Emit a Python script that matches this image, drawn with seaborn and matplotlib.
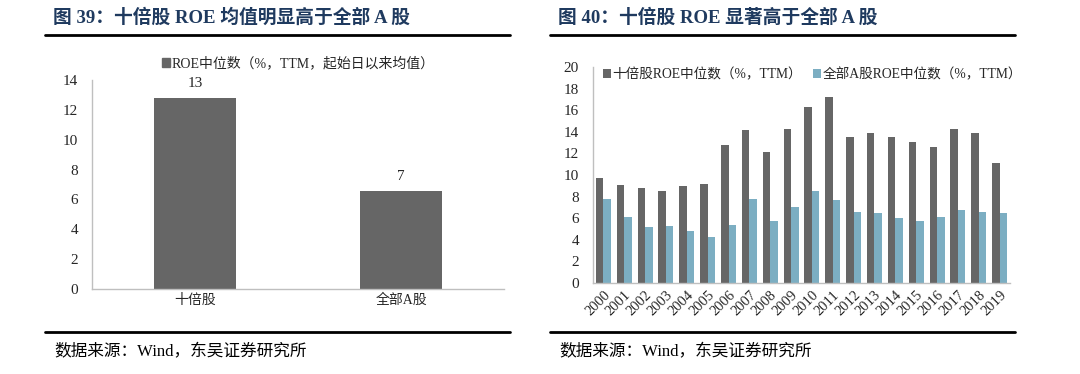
import numpy as np
import pandas as pd
import seaborn as sns
import matplotlib.pyplot as plt
from matplotlib.ticker import FixedLocator

sns.set_style('white')
plt.rcParams['font.family'] = ['Liberation Serif', 'Noto Sans CJK SC']

# data
left_cats = ['十倍股', '全部A股']
left_vals = [12.8, 6.55]
left_series = 'ROE中位数（%，TTM，起始日以来均值）'

years = [str(y) for y in range(2000, 2020)]
ten_bagger = [9.7, 9.1, 8.8, 8.55, 9.0, 9.2, 12.8, 14.2, 12.1, 14.3,
              16.3, 17.25, 13.5, 13.9, 13.5, 13.05, 12.6, 14.3, 13.9, 11.1]
all_a = [7.75, 6.1, 5.2, 5.3, 4.8, 4.3, 5.4, 7.75, 5.7, 7.05,
         8.5, 7.65, 6.55, 6.45, 6.0, 5.75, 6.1, 6.75, 6.55, 6.45]
right_series = ['十倍股ROE中位数（%，TTM）', '全部A股ROE中位数（%，TTM）']

dark = '#666666'
blue = '#70B3CE'
axis_gray = '#BFBFBF'
title_color = '#1F3A5F'

fig = plt.figure(figsize=(10.8, 3.74), dpi=100)


def style_axis(ax, n):
    sns.despine(ax=ax)
    for s in ['left', 'bottom']:
        ax.spines[s].set_color(axis_gray)
        ax.spines[s].set_linewidth(1)
    ax.tick_params(axis='y', direction='out', length=4, color=axis_gray, labelsize=11, pad=6)
    ax.tick_params(axis='x', which='major', length=0, labelsize=10)
    ax.xaxis.set_minor_locator(FixedLocator(np.arange(-0.5, n, 1)))
    ax.tick_params(axis='x', which='minor', direction='out', length=4, color=axis_gray)
    ax.set_xlim(-0.5, n - 0.5)
    ax.set_xlabel('')
    ax.set_ylabel('')


# left chart
ax1 = fig.add_axes([92 / 1080, 85 / 374, 412 / 1080, 209 / 374])
df1 = pd.DataFrame({'cat': left_cats, 'val': left_vals, 'series': left_series})
sns.barplot(data=df1, x='cat', y='val', hue='series', palette=[dark], width=0.4,
            linewidth=0, ax=ax1, legend=False)
ax1.set_ylim(0, 14)
ax1.set_yticks(range(0, 15, 2))
style_axis(ax1, 2)
ax1.bar_label(ax1.containers[0], fmt='%.0f', padding=6, fontsize=11)
h1 = [plt.Rectangle((0, 0), 1, 1, color=dark)]
ax1.legend(h1, [left_series], loc='lower center', bbox_to_anchor=(0.5, 1.02), frameon=False,
           fontsize=10, handlelength=0.6, handleheight=0.6, handletextpad=0.1, borderaxespad=0)

# right chart
ax2 = fig.add_axes([593 / 1080, 91 / 374, 417 / 1080, 216 / 374])
df2 = pd.DataFrame({'year': years * 2,
                    'val': ten_bagger + all_a,
                    'series': [right_series[0]] * len(years) + [right_series[1]] * len(years)})
sns.barplot(data=df2, x='year', y='val', hue='series', palette=[dark, blue], width=0.72,
            gap=0, linewidth=0, ax=ax2)
ax2.set_ylim(0, 20)
ax2.set_yticks(range(0, 21, 2))
style_axis(ax2, len(years))
for lbl in ax2.get_xticklabels():
    lbl.set_rotation(45)
    lbl.set_ha('right')
    lbl.set_rotation_mode('anchor')
ax2.tick_params(axis='x', which='major', pad=4, labelsize=10.5)
ax2.legend(loc='upper left', bbox_to_anchor=(0.01, 1.02), ncol=2, frameon=False, fontsize=9.8,
           handlelength=0.6, handleheight=0.6, handletextpad=0.1, columnspacing=0.8,
           borderaxespad=0)

# titles, rules and source notes
for x0, x1, title in [(45, 510, '图 39：十倍股 ROE 均值明显高于全部 A 股'),
                      (550, 1015, '图 40：十倍股 ROE 显著高于全部 A 股')]:
    fig.text(x0 / 1080 + 0.007, 1 - 18 / 374, title, fontsize=13.5, fontweight='bold',
             color=title_color, va='center', ha='left')
    fig.add_artist(plt.Line2D([x0 / 1080, x1 / 1080], [1 - 35 / 374] * 2, color='black', lw=2))
    fig.add_artist(plt.Line2D([x0 / 1080, x1 / 1080], [1 - 332 / 374] * 2, color='black', lw=2))
    fig.text(x0 / 1080 + 0.009, 1 - 352 / 374, '数据来源：Wind，东吴证券研究所', fontsize=12,
             color='black', va='center', ha='left')

fig.savefig('out.png', dpi=100)
